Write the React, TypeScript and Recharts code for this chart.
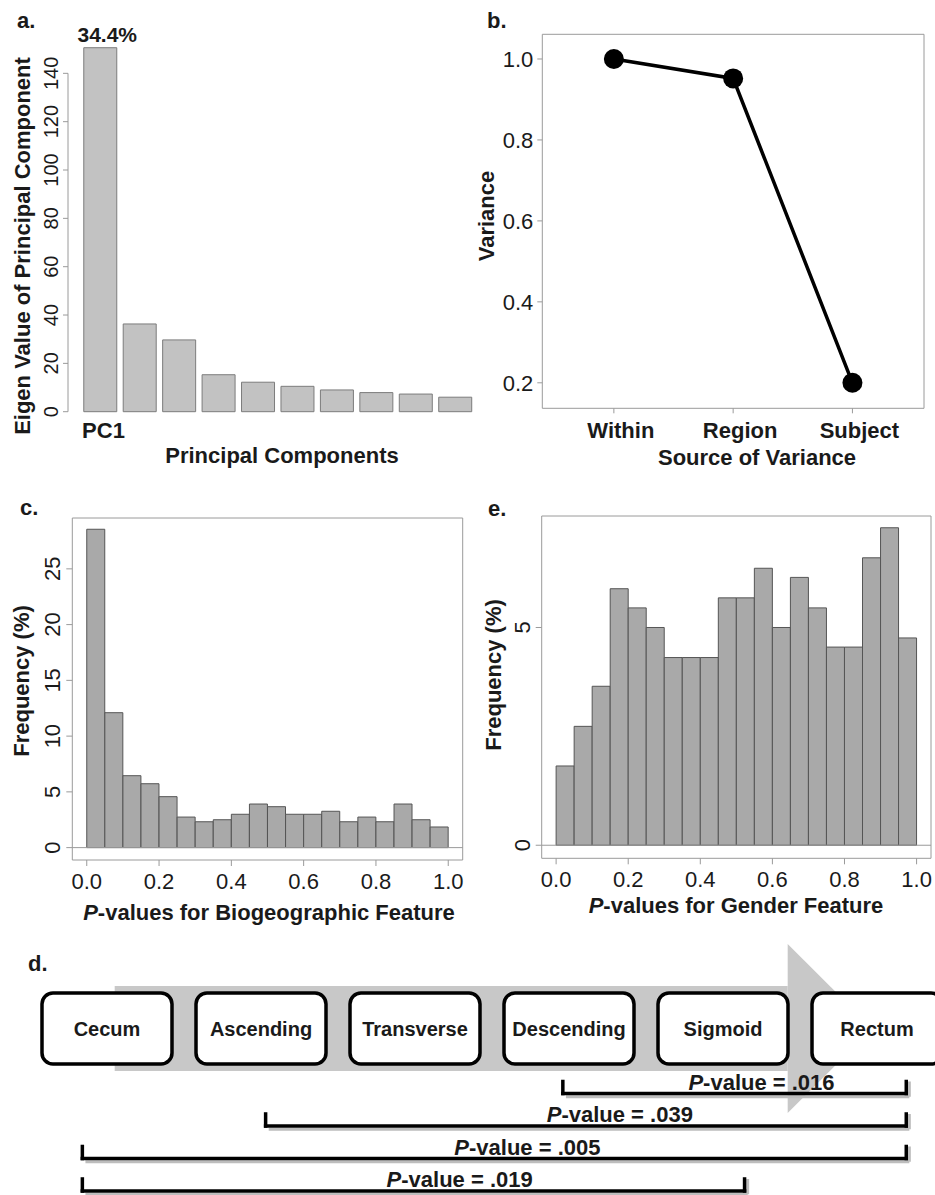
import React from 'react';
import {
  BarChart, Bar, XAxis, YAxis, ReferenceLine, ReferenceArea, LabelList,
  LineChart, Line, ComposedChart, Scatter,
} from 'recharts';

const FONT = "'Liberation Sans', Arial, Helvetica, sans-serif";
const INK = '#1a1a1a';
const AXIS = '#9a9a9a';

// a. eigen values of the first ten principal components
const pcIndex = [1, 2, 3, 4, 5, 6, 7, 8, 9, 10];
const eigenValues = [150.6, 36.3, 29.7, 15.3, 12.2, 10.5, 9.0, 7.9, 7.3, 6.0];
const eigenTicks = [0, 20, 40, 60, 80, 100, 120, 140];
const pc1Share = '34.4%';

// b. variance by source
const varianceSources = ['Within', 'Region', 'Subject'];
const varianceValues = [1.0, 0.952, 0.2];
const varianceTicks = [0.2, 0.4, 0.6, 0.8, 1.0];

// c. / e. p-value histograms (20 bins of 0.05)
const binWidth = 0.05;
const pTicks = [0, 0.2, 0.4, 0.6, 0.8, 1.0];
const bioFreq = [28.55, 12.1, 6.45, 5.73, 4.57, 2.74, 2.32, 2.5, 2.99, 3.91, 3.67, 2.99, 2.99, 3.26, 2.32, 2.74, 2.32, 3.91, 2.5, 1.85];
const bioTicks = [0, 5, 10, 15, 20, 25];
const genderFreq = [1.82, 2.73, 3.65, 5.89, 5.45, 5.0, 4.31, 4.31, 4.31, 5.68, 5.68, 6.36, 5.0, 6.15, 5.45, 4.55, 4.55, 6.6, 7.29, 4.76];
const genderTicks = [0, 5];

// d. colon regions and pairwise comparisons (positions in region units)
const regions = ['Cecum', 'Ascending', 'Transverse', 'Descending', 'Sigmoid', 'Rectum'];
const pairPValues = ['.016', '.039', '.005', '.019'];
const pairFrom = [2.96, 1.03, -0.16, -0.16];
const pairTo = [5.19, 5.19, 5.19, 4.14];
const pairLabelAt = [4.25, 3.33, 2.73, 2.29];

const A_X: [number, number] = [0.176, 10.572];
const B_X: [number, number] = [0.4, 3.6];
const B_Y: [number, number] = [0.137, 1.061];
const H_X: [number, number] = [-0.04, 1.04];
const C_Y: [number, number] = [-1.11, 29.56];
const E_Y: [number, number] = [-0.3, 7.56];
const D_X: [number, number] = [-0.6948, 5.3766];
const D_Y: [number, number] = [-3.031, 5.123];

const RotatedTick = ({ x, y, payload, size }: any) => (
  <text x={x} y={y} transform={`rotate(-90 ${x} ${y})`} textAnchor="middle"
    fontSize={size} fontFamily={FONT} fill={INK}>
    {payload.value}
  </text>
);

const tickText = { fontSize: 22, fontFamily: FONT, fill: INK };
const boldTick = { fontSize: 22, fontFamily: FONT, fill: INK, fontWeight: 'bold' as const };

function PanelA() {
  const data = pcIndex.map((pc, i) => ({ pc, value: eigenValues[i] }));
  return (
    <BarChart width={480} height={470} data={data} margin={{ top: 25, right: 2, bottom: 0, left: 0 }}>
      <XAxis type="number" dataKey="pc" domain={A_X} ticks={[1]} tickFormatter={(v) => `PC${v}`}
        axisLine={false} tickLine={false} tickSize={0} tickMargin={11} height={58.3}
        tick={{ ...boldTick, dx: 3 }} interval={0} />
      <YAxis type="number" domain={[0, 160]} ticks={eigenTicks} width={68} axisLine={false}
        tickLine={{ stroke: AXIS }} tickSize={5} tickMargin={5} interval={0}
        tick={(p: any) => <RotatedTick {...p} size={20} />} />
      <ReferenceLine segment={[{ x: A_X[0], y: 0 }, { x: A_X[0], y: 140 }]} stroke={AXIS} ifOverflow="visible" />
      <Bar dataKey="value" fill="#c2c2c2" stroke="#7c7c7c" strokeWidth={1} barSize={33} isAnimationActive={false}>
        <LabelList dataKey="value" content={(p: any) => (p.index === 0 ? (
          <text x={p.x + p.width / 2 + 7} y={p.y - 6} textAnchor="middle" fontSize={21}
            fontWeight="bold" fontFamily={FONT} fill={INK}>{pc1Share}</text>
        ) : null)} />
      </Bar>
    </BarChart>
  );
}

function PanelB() {
  const data = varianceSources.map((s, i) => ({ x: i + 1, v: varianceValues[i] }));
  return (
    <LineChart width={465} height={470} data={data} margin={{ top: 28.3, right: 5, bottom: 21.7, left: 12.3 }}>
      <XAxis xAxisId="b" type="number" dataKey="x" domain={B_X} ticks={[1, 2, 3]}
        tickFormatter={(v) => varianceSources[v - 1]} height={40} stroke={AXIS}
        tickSize={5} tickMargin={9} tick={{ ...boldTick, dx: 7 }} interval={0} />
      <XAxis xAxisId="t" orientation="top" type="number" dataKey="x" domain={B_X} ticks={[1, 2, 3]}
        tick={false} height={6} stroke={AXIS} tickSize={5} />
      <YAxis yAxisId="l" type="number" domain={B_Y} ticks={varianceTicks} tickFormatter={(v) => v.toFixed(1)}
        width={60} stroke={AXIS} tickSize={5} tickMargin={4} tick={tickText} interval={0} />
      <YAxis yAxisId="r" orientation="right" type="number" domain={B_Y} ticks={varianceTicks}
        tick={false} width={6} stroke={AXIS} tickSize={5} />
      <Line xAxisId="b" yAxisId="l" type="linear" dataKey="v" stroke="#000" strokeWidth={3.5}
        dot={{ r: 10, fill: '#000', stroke: '#000', strokeWidth: 0 }} isAnimationActive={false} />
      <Line xAxisId="t" yAxisId="r" type="linear" dataKey="v" stroke="none" dot={false} isAnimationActive={false} />
    </LineChart>
  );
}

function Histogram({ freq, ticks, yDomain, width, margin, yWidth }: any) {
  const data = freq.map((f: number, i: number) => ({ p: (i + 0.5) * binWidth, f }));
  return (
    <BarChart width={width} height={460} data={data} margin={margin} barCategoryGap={0} barGap={0}>
      <XAxis type="number" dataKey="p" domain={H_X} ticks={pTicks} tickFormatter={(v) => v.toFixed(1)}
        height={50} axisLine={false} tickLine={{ stroke: AXIS }} tickSize={6} tickMargin={7}
        tick={tickText} interval={0} />
      <YAxis type="number" domain={yDomain} ticks={ticks} width={yWidth} axisLine={false}
        tickLine={{ stroke: AXIS }} tickSize={6} tickMargin={6} interval={0}
        tick={(p: any) => <RotatedTick {...p} size={22} />} />
      <ReferenceArea x1={H_X[0]} x2={H_X[1]} y1={yDomain[0]} y2={yDomain[1]} fill="none"
        stroke={AXIS} ifOverflow="visible" />
      <ReferenceLine y={0} stroke={AXIS} />
      <Bar dataKey="f" fill="#a9a9a9" stroke="#555" strokeWidth={1} isAnimationActive={false} />
    </BarChart>
  );
}

const ArrowHead = (p: any) => (
  <polygon points={`${p.x},${p.y} ${p.x + p.width},${p.y + p.height / 2} ${p.x},${p.y + p.height}`}
    fill="#c8c8c8" />
);

const RegionBox = (p: any) => (
  <g>
    <rect x={p.cx - 65} y={p.cy - 35.5} width={130} height={71} rx={11} fill="#fff"
      stroke="#000" strokeWidth={3.5} />
    <text x={p.cx} y={p.cy + 7} textAnchor="middle" fontSize={20} fontWeight="bold"
      fontFamily={FONT} fill={INK}>{p.payload.name}</text>
  </g>
);

const PLabel = (p: any) => (
  <text x={p.cx} y={p.cy - 4} textAnchor="middle" fontSize={22} fontWeight="bold"
    fontFamily={FONT} fill={INK}>
    <tspan fontStyle="italic">P</tspan>-value = {p.payload.label}
  </text>
);

function PanelD() {
  const boxes = regions.map((name, i) => ({ x: i, y: 0, name }));
  const labels = pairPValues.map((label, i) => ({ x: pairLabelAt[i], y: i + 2, label }));
  const tick = 0.37;
  return (
    <ComposedChart width={935} height={265} margin={{ top: 0, right: 0, bottom: 0, left: 0 }}>
      <XAxis type="number" dataKey="x" domain={D_X} hide />
      <YAxis type="number" dataKey="y" domain={D_Y} reversed hide />
      <ReferenceArea x1={0.05} x2={4.42} y1={-1.31} y2={1.31} fill="#c8c8c8" fillOpacity={1}
        stroke="none" ifOverflow="visible" />
      <ReferenceArea x1={4.42} x2={4.97} y1={-2.6} y2={2.6} shape={ArrowHead} ifOverflow="visible" />
      {pairPValues.map((_, i) => {
        const r = i + 2;
        const a = pairFrom[i];
        const b = pairTo[i];
        return (
          <React.Fragment key={i}>
            <ReferenceLine segment={[{ x: a + 0.02, y: r + 0.1 }, { x: b + 0.02, y: r + 0.1 }]}
              stroke="#bdbdbd" strokeWidth={3} ifOverflow="visible" />
            <ReferenceLine segment={[{ x: b + 0.02, y: r + 0.1 }, { x: b + 0.02, y: r - tick }]}
              stroke="#bdbdbd" strokeWidth={3} ifOverflow="visible" />
            <ReferenceLine segment={[{ x: a, y: r }, { x: b, y: r }]} stroke="#000" strokeWidth={3.5}
              strokeLinecap="square" ifOverflow="visible" />
            <ReferenceLine segment={[{ x: a, y: r }, { x: a, y: r - tick }]} stroke="#000" strokeWidth={3.5}
              strokeLinecap="square" ifOverflow="visible" />
            <ReferenceLine segment={[{ x: b, y: r }, { x: b, y: r - tick }]} stroke="#000" strokeWidth={3.5}
              strokeLinecap="square" ifOverflow="visible" />
          </React.Fragment>
        );
      })}
      <Scatter data={boxes} shape={RegionBox} isAnimationActive={false} />
      <Scatter data={labels} shape={PLabel} isAnimationActive={false} />
    </ComposedChart>
  );
}

const T = (props: any) => (
  <text fontFamily={FONT} fontWeight="bold" fontSize={22} fill={INK} {...props} />
);

export default function App() {
  return (
    <div style={{ position: 'absolute', left: 0, top: 0, width: 935, height: 1195, background: '#fff', overflow: 'hidden' }}>
      <div style={{ position: 'absolute', left: 0, top: 0 }}><PanelA /></div>
      <div style={{ position: 'absolute', left: 470, top: 0 }}><PanelB /></div>
      <div style={{ position: 'absolute', left: 0, top: 470 }}>
        <Histogram freq={bioFreq} ticks={bioTicks} yDomain={C_Y} width={470} yWidth={72.3}
          margin={{ top: 48, right: 7.3, bottom: 20, left: 0 }} />
      </div>
      <div style={{ position: 'absolute', left: 470, top: 470 }}>
        <Histogram freq={genderFreq} ticks={genderTicks} yDomain={E_Y} width={465} yWidth={71.7}
          margin={{ top: 46, right: 4, bottom: 21.7, left: 0 }} />
      </div>
      <div style={{ position: 'absolute', left: 0, top: 930 }}><PanelD /></div>
      <svg width={935} height={1195} style={{ position: 'absolute', left: 0, top: 0, pointerEvents: 'none' }}>
        <T x={17} y={28}>a.</T>
        <T x={487} y={28}>b.</T>
        <T x={20} y={515}>c.</T>
        <T x={488} y={516}>e.</T>
        <T x={28} y={971}>d.</T>
        <T x={282} y={463} textAnchor="middle">Principal Components</T>
        <T x={757} y={465} textAnchor="middle">Source of Variance</T>
        <T x={269} y={920} textAnchor="middle"><tspan fontStyle="italic">P</tspan>-values for Biogeographic Feature</T>
        <T x={736} y={913} textAnchor="middle"><tspan fontStyle="italic">P</tspan>-values for Gender Feature</T>
        <T x={30} y={246} textAnchor="middle" transform="rotate(-90 30 246)">Eigen Value of Principal Component</T>
        <T x={494} y={216} textAnchor="middle" transform="rotate(-90 494 216)">Variance</T>
        <T x={29} y={681} textAnchor="middle" transform="rotate(-90 29 681)">Frequency (%)</T>
        <T x={501} y={675} textAnchor="middle" transform="rotate(-90 501 675)">Frequency (%)</T>
      </svg>
    </div>
  );
}
